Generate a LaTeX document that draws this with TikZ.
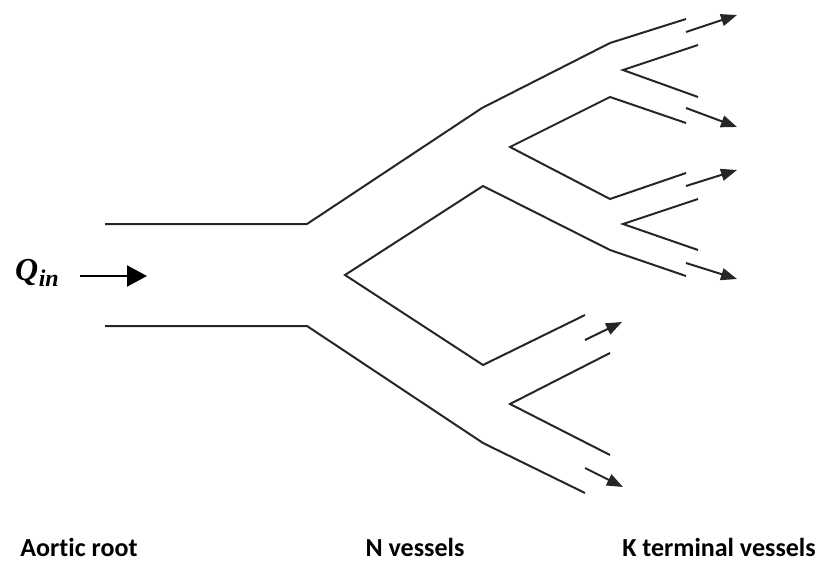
\documentclass[tikz,border=0pt]{standalone}
\usepackage{fontspec}
\setmainfont{Carlito}[Ligatures=NoCommon]
\newfontfamily\qfont{Liberation Serif}
\usetikzlibrary{arrows.meta}
\begin{document}
\begin{tikzpicture}[x=1pt,y=-1pt,
  wall/.style={line width=2pt,black!85,line join=miter},
  flow/.style={line width=2pt,black!85,-{Triangle[length=16pt,width=12pt]}},
  inflow/.style={line width=2.2pt,black,-{Triangle[length=20pt,width=21pt]}},
  lbl/.style={font=\fontsize{26}{30}\selectfont\bfseries,inner sep=0pt}]
\useasboundingbox (0,0) rectangle (819,562);
% coordinates
\coordinate (r1) at (105,224);
\coordinate (r2) at (307,224);
\coordinate (r3) at (105,326);
\coordinate (r4) at (307,326);
\coordinate (c0) at (345,275);
\coordinate (u1) at (482,108);
\coordinate (u2) at (610,43);
\coordinate (u3) at (686,19);
\coordinate (d0) at (510,147);
\coordinate (d1) at (610,97);
\coordinate (d2) at (686,123);
\coordinate (d3) at (610,199);
\coordinate (d4) at (686,173);
\coordinate (v1a) at (698,45);
\coordinate (v1) at (623,70);
\coordinate (v1b) at (698,97);
\coordinate (v2a) at (698,199);
\coordinate (v2) at (623,224);
\coordinate (v2b) at (698,250);
\coordinate (m1) at (483,186);
\coordinate (m2) at (610,250);
\coordinate (m3) at (686,276);
\coordinate (l1) at (483,365);
\coordinate (l2) at (585,315);
\coordinate (w1) at (483,443);
\coordinate (w2) at (585,493);
\coordinate (v3a) at (610,353);
\coordinate (v3) at (510,404);
\coordinate (v3b) at (610,455);
% aortic root and outer walls
\draw[wall] (r1) -- (r2) -- (u1) -- (u2) -- (u3);
\draw[wall] (r3) -- (r4) -- (w1) -- (w2);
% diamond walls
\draw[wall] (m3) -- (m2) -- (m1) -- (c0) -- (l1) -- (l2);
% second level
\draw[wall] (d2) -- (d1) -- (d0) -- (d3) -- (d4);
\draw[wall] (v1a) -- (v1) -- (v1b);
\draw[wall] (v2a) -- (v2) -- (v2b);
\draw[wall] (v3a) -- (v3) -- (v3b);
% flow arrows
\coordinate (a1s) at (686,32);  \coordinate (a1e) at (737,15);
\coordinate (a2s) at (686,108); \coordinate (a2e) at (737,127);
\coordinate (a3s) at (686,186); \coordinate (a3e) at (737,170);
\coordinate (a4s) at (686,263); \coordinate (a4e) at (737,279);
\coordinate (a5s) at (585,340); \coordinate (a5e) at (622,322);
\coordinate (a6s) at (585,468); \coordinate (a6e) at (623,487);
\draw[flow] (a1s) -- (a1e);
\draw[flow] (a2s) -- (a2e);
\draw[flow] (a3s) -- (a3e);
\draw[flow] (a4s) -- (a4e);
\draw[flow] (a5s) -- (a5e);
\draw[flow] (a6s) -- (a6e);
% inflow
\node[inner sep=0pt,font=\qfont\bfseries\itshape] (q) at (37,273)
  {\fontsize{32}{34}\selectfont Q\kern0.5pt\raisebox{-6pt}{\fontsize{24}{26}\selectfont in}};
\coordinate (qs) at (80,276);
\coordinate (qe) at (147,276);
\draw[inflow] (qs) -- (qe);
% labels
\node[lbl] (ar) at (79,547) {Aortic root};
\node[lbl] (nv) at (415,547) {N vessels};
\node[lbl] (kt) at (719,547) {K terminal vessels};
\end{tikzpicture}
\end{document}
